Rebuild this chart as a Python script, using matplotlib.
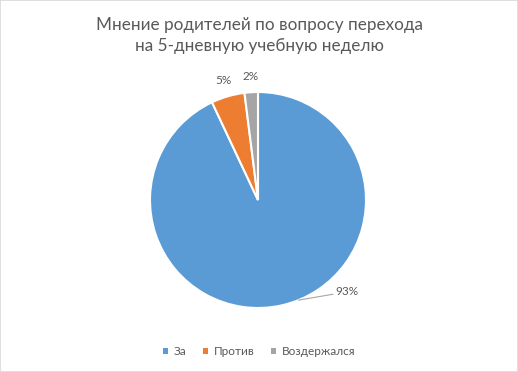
import numpy as np
import matplotlib
matplotlib.use("Agg")
import matplotlib.pyplot as plt
from matplotlib.patches import Rectangle

plt.rcParams['font.family'] = ['Lato', 'DejaVu Sans']

# данные опроса
labels = ['За', 'Против', 'Воздержался']
values = [93, 5, 2]
colors = ['#5B9BD5', '#ED7D31', '#A5A5A5']
title = 'Мнение родителей по вопросу перехода\nна 5-дневную учебную неделю'
text_color = '#595959'

fig = plt.figure(figsize=(5.18, 3.72), dpi=100)
fig.patches.append(Rectangle((0, 0), 1, 1, transform=fig.transFigure,
                             fill=False, edgecolor='#D9D9D9', linewidth=1.2))

fig.text(0.5, 0.905, title, ha='center', va='center', fontsize=12.3,
         color=text_color, linespacing=1.35)

# оси под круг: центр ~ (258, 200), радиус ~108 px
ax = fig.add_axes([150 / 518, 64 / 372, 216 / 518, 216 / 372])
wedges, texts = ax.pie(values, colors=colors, startangle=90, counterclock=False,
                       wedgeprops=dict(edgecolor='white', linewidth=1.5))
ax.set_xlim(-1, 1)
ax.set_ylim(-1, 1)
ax.set_aspect('equal')

# подписи процентов
for i, (w, v) in enumerate(zip(wedges, values)):
    mid = np.deg2rad((w.theta1 + w.theta2) / 2)
    if i == 0:
        edge = np.deg2rad(-68)
        ax.annotate(f'{v}%', xy=(np.cos(edge), np.sin(edge)),
                    xytext=(0.72, -0.85), fontsize=8.5, color=text_color,
                    ha='left', va='center', annotation_clip=False,
                    arrowprops=dict(arrowstyle='-', color='#A6A6A6', lw=0.8,
                                    shrinkA=0, shrinkB=0))
    else:
        r = 1.15
        ax.text(r * np.cos(mid), r * np.sin(mid), f'{v}%', ha='center', va='center',
                fontsize=8.5, color=text_color, clip_on=False)

leg = fig.legend(wedges, labels, loc='center', bbox_to_anchor=(0.5, 0.055), ncol=3,
                 frameon=False, fontsize=8.5, handlelength=0.45, handleheight=0.45,
                 handletextpad=0.45, columnspacing=1.4)
for t in leg.get_texts():
    t.set_color(text_color)
for h in leg.legend_handles:
    h.set_edgecolor('none')

fig.savefig('out.png', dpi=100)
